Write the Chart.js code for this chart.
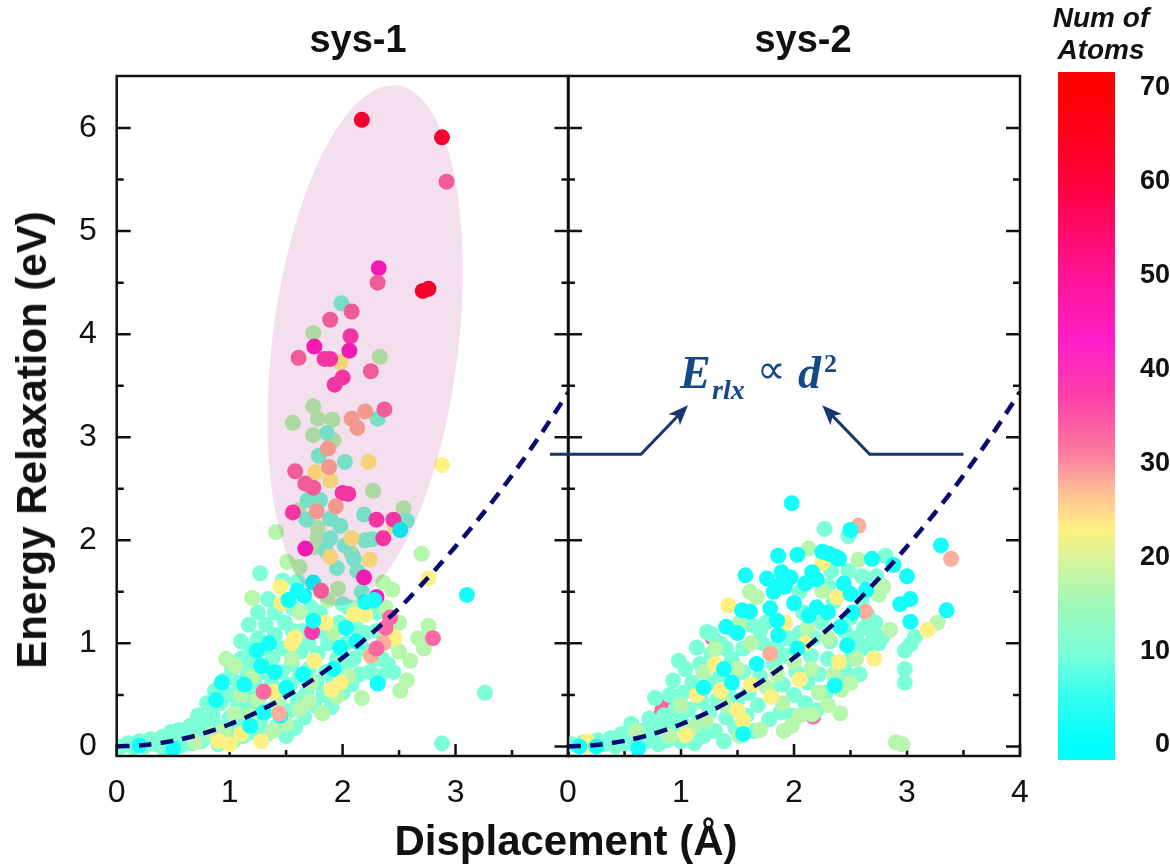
<!DOCTYPE html>
<html lang="en">
<head>
<meta charset="UTF-8">
<title>Energy relaxation vs displacement</title>
<script src="https://cdn.jsdelivr.net/npm/chart.js"></script>
<style>
    html, body { margin: 0; padding: 0; background: #fff; }
    #page { position: relative; width: 1170px; height: 867px; overflow: hidden; font-family: "Liberation Sans", Arial, sans-serif; }
    canvas { position: absolute; left: 0; top: 0; }
    .lbl { position: absolute; transform: translate(-50%, -50%); white-space: nowrap; color: #111; font-weight: bold; z-index: 5; }
    .eq { position: absolute; white-space: nowrap; color: #134a86; font-family: "Liberation Serif", serif; font-weight: bold; font-style: italic; z-index: 5; line-height: 1; }
</style>
</head>
<body>
<div id="page">
    <canvas id="chartSys1" width="1170" height="867"></canvas>
    <canvas id="chartSys2" width="1170" height="867"></canvas>
    <canvas id="chartBar" width="1170" height="867"></canvas>

    <div class="lbl" style="left:358px;top:39px;font-size:38px;">sys-1</div>
    <div class="lbl" style="left:803px;top:39px;font-size:38px;">sys-2</div>
    <div class="lbl" style="left:566px;top:841px;font-size:42px;">Displacement (Å)</div>
    <div class="lbl" style="left:32px;top:440px;font-size:42px;transform:translate(-50%,-50%) rotate(-90deg);">Energy Relaxation (eV)</div>
    <div class="lbl" style="left:1101px;top:18px;font-size:28px;font-style:italic;">Num of</div>
    <div class="lbl" style="left:1101px;top:50px;font-size:28px;font-style:italic;">Atoms</div>

    <span class="eq" style="left:680px;top:350px;font-size:46px;">E</span>
    <span class="eq" style="left:712px;top:376px;font-size:28px;">rlx</span>
    <span class="eq" style="left:757px;top:350px;font-size:40px;font-style:normal;font-weight:normal;">∝</span>
    <span class="eq" style="left:798px;top:350px;font-size:46px;">d</span>
    <span class="eq" style="left:824px;top:351px;font-size:26px;font-style:normal;">2</span>
</div>

<script>
    // axis ticks
    const yMajor = [0, 1, 2, 3, 4, 5, 6];
    const yMinor = [0.5, 1.5, 2.5, 3.5, 4.5, 5.5];
    const xMajor = [0, 1, 2, 3, 4];
    const xMinor = [0.5, 1.5, 2.5, 3.5];
    const xLabelsSys1 = [0, 1, 2, 3];
    const xLabelsSys2 = [0, 1, 2, 3, 4];
    const barTicks = [0, 10, 20, 30, 40, 50, 60, 70];

    // dashed guide E ~ d^2
    const curveD = [0, 0.25, 0.5, 0.75, 1, 1.25, 1.5, 1.75, 2, 2.25, 2.5, 2.75, 3, 3.25, 3.5, 3.75, 4];
    const curveE = [0, 0.013, 0.054, 0.121, 0.215, 0.336, 0.484, 0.658, 0.86, 1.09, 1.34, 1.63, 1.94, 2.27, 2.63, 3.02, 3.44];

    // atom count of every colour group
    const atomsCyan = 2, atomsAqua = 10, atomsGreen = 17, atomsYellow = 23, atomsSalmon = 28;
    const atomsPink = 33, atomsHotPink = 38, atomsMagenta = 44, atomsRed = 62;

    // sys-1 points [displacement, energy]
    const sys1Red = [[2.17, 6.08], [2.88, 5.91], [2.71, 4.42], [2.76, 4.44]];
    const sys1Magenta = [[2.32, 4.64], [1.75, 3.88], [2.06, 3.84], [2.3, 1.45], [1.67, 1.92], [2.19, 1.64]];
    const sys1HotPink = [[2.0, 3.58], [1.93, 3.51], [1.84, 3.76], [1.89, 3.76], [2.07, 3.98], [2.0, 2.46], [2.05, 2.45], [2.3, 2.2], [2.45, 2.2], [2.36, 2.02], [1.56, 2.27], [1.73, 1.11]];
    const sys1Pink = [[2.92, 5.48], [2.31, 4.5], [2.08, 4.22], [1.89, 4.14], [1.61, 3.77], [2.25, 3.64], [2.37, 3.27], [1.58, 2.67], [1.67, 2.55], [1.74, 2.51], [1.81, 1.51], [1.3, 0.53], [2.8, 1.05], [2.42, 1.25], [2.38, 1.15], [2.3, 0.95]];
    const sys1Salmon = [[2.08, 3.18], [2.13, 3.09], [1.88, 2.71], [1.94, 2.33], [1.77, 2.28], [1.87, 2.89], [2.2, 3.25], [2.36, 1.0], [1.44, 0.32], [2.25, 0.88]];
    const sys1Cyan = [[3.1, 1.47], [1.74, 1.22], [1.98, 0.96], [2.31, 0.61], [1.5, 0.57], [1.6, 1.51], [1.74, 1.59], [1.52, 1.42], [1.66, 1.46], [1.35, 1.0], [1.24, 0.93], [1.13, 0.6], [0.88, 0.45], [0.93, 0.62], [1.45, 0.3], [1.18, 0.2], [1.3, 0.33], [0.2, 0.01], [0.5, -0.02], [1.92, 0.75], [2.03, 1.15], [2.12, 1.02], [1.28, 0.78], [2.28, 1.42], [1.4, 0.72], [1.65, 0.7], [2.51, 2.1], [2.2, 1.4]];
    const sys1Yellow = [[2.88, 2.73], [2.76, 1.63], [2.23, 2.76], [1.76, 2.66], [1.89, 2.58], [1.98, 3.73], [2.08, 2.02], [1.89, 1.84], [2.24, 1.81], [1.46, 1.39], [2.46, 2.14], [1.39, 0.53], [1.55, 1.0], [1.58, 1.06], [2.39, 1.12], [2.46, 1.05], [1.0, 0.02], [0.9, 0.05], [1.28, 0.05], [1.85, 1.2], [2.1, 1.28], [1.1, 0.12], [1.9, 0.55], [2.2, 1.28], [1.45, 1.55], [1.75, 0.83], [1.98, 0.62]];
    const sys1Green = [[1.74, 4.01], [2.33, 3.78], [1.56, 3.14], [1.74, 3.3], [1.78, 3.18], [1.91, 3.17], [1.74, 3.02], [1.92, 2.97], [2.27, 2.48], [2.54, 2.31], [1.41, 2.08], [1.78, 2.12], [1.61, 2.29], [1.74, 1.93], [1.78, 2.03], [2.08, 1.87], [1.62, 1.74], [1.51, 1.79], [2.7, 1.87], [1.96, 1.53], [1.87, 1.42], [2.36, 1.59], [2.44, 1.52], [2.38, 1.35], [2.5, 1.2], [2.76, 1.17], [2.67, 1.05], [2.6, 0.83], [2.72, 0.95], [2.5, 0.92], [2.44, 1.02], [2.14, 1.35], [1.2, 1.44], [1.62, 1.3], [0.97, 0.85], [1.05, 0.78], [1.1, 0.5], [1.04, 0.32], [0.95, 0.15], [1.2, 0.68], [1.25, 0.45], [1.18, 0.3], [1.42, 0.42], [1.5, 0.22], [1.62, 0.36], [1.7, 0.44], [1.82, 0.32], [1.95, 0.48], [2.05, 0.68], [1.72, 0.62], [2.51, 0.54], [2.57, 0.64], [1.55, 0.85], [1.38, 0.15], [0.85, 0.12], [0.7, 0.04], [2.17, 0.47], [1.92, 1.1]];
    const sys1Aqua = [[1.99, 4.3], [2.31, 3.18], [1.86, 3.04], [1.79, 2.82], [2.02, 2.76], [1.8, 2.39], [1.69, 2.39], [2.19, 2.25], [2.57, 2.19], [1.68, 2.2], [1.89, 2.21], [1.98, 2.14], [2.26, 2.01], [1.89, 2.02], [2.2, 2.0], [1.95, 1.73], [2.13, 1.7], [1.47, 1.61], [1.27, 1.68], [2.17, 1.5], [1.85, 1.9], [2.02, 1.95], [2.1, 1.82], [1.34, 1.43], [3.26, 0.52], [2.88, 0.03],
        [0.04, 0.0], [0.1, 0.03], [0.15, -0.01], [0.2, 0.05], [0.25, 0.0], [0.3, 0.07], [0.35, 0.02], [0.4, 0.09], [0.42, -0.02], [0.48, 0.14], [0.5, 0.04], [0.55, 0.16], [0.57, 0.01], [0.6, 0.09], [0.65, 0.2], [0.66, 0.03], [0.7, 0.13], [0.72, 0.3], [0.75, 0.05], [0.78, 0.2], [0.8, 0.42], [0.82, 0.1], [0.85, 0.3], [0.87, 0.54], [0.9, 0.02], [0.9, 0.18], [0.92, 0.42], [0.95, 0.64], [0.96, 0.1], [1.0, 0.28], [1.0, 0.5], [1.02, 0.75], [1.03, 0.05], [1.05, 0.18], [1.07, 0.38], [1.08, 0.62], [1.1, 0.85], [1.1, 1.02], [1.12, 0.1], [1.14, 0.27], [1.15, 0.5], [1.16, 0.73], [1.17, 1.18], [1.18, 0.95], [1.2, 0.14], [1.2, 0.38], [1.22, 0.62], [1.23, 0.84], [1.25, 1.05], [1.25, 1.3], [1.27, 0.22], [1.28, 0.5], [1.3, 0.72], [1.3, 0.95], [1.32, 1.18], [1.33, 0.12], [1.35, 0.35], [1.37, 0.62], [1.38, 0.85], [1.4, 1.08], [1.4, 1.3], [1.42, 0.2], [1.44, 0.47], [1.46, 0.72], [1.47, 0.95], [1.49, 1.2], [1.5, 0.1], [1.52, 0.34], [1.54, 0.6], [1.55, 0.8], [1.56, 1.12], [1.56, 1.34], [1.58, 0.18], [1.6, 0.45], [1.62, 0.68], [1.63, 0.92], [1.64, 1.12], [1.66, 0.28], [1.68, 0.52], [1.7, 0.75], [1.7, 1.0], [1.72, 1.35], [1.75, 0.4], [1.77, 0.62], [1.78, 0.9], [1.8, 1.12], [1.8, 1.3], [1.83, 0.5], [1.85, 0.72], [1.87, 1.0], [1.9, 0.38], [1.92, 0.62], [1.95, 0.85], [1.97, 1.2], [2.0, 0.52], [2.02, 0.78], [2.03, 1.0], [2.05, 1.35], [2.08, 0.6], [2.1, 0.85], [2.12, 1.15], [2.15, 0.7], [2.18, 0.95], [2.2, 1.1], [2.24, 0.72], [2.27, 0.85], [2.3, 1.12], [2.33, 0.68], [2.35, 0.85], [2.4, 0.8], [2.45, 0.72], [2.3, 1.3], [2.0, 1.38], [1.6, 1.6]];

    // sys-2 points [displacement, energy]
    const sys2Pink = [[0.86, 0.42], [0.83, 0.33], [0.84, 0.38], [2.17, 0.29], [1.28, 1.05]];
    const sys2Salmon = [[3.39, 1.82], [2.63, 1.31], [1.79, 0.9], [2.57, 2.14]];
    const sys2Yellow = [[1.42, 1.37], [3.18, 1.13], [2.71, 0.85], [2.4, 0.82], [1.14, 0.5], [1.04, 0.11], [0.17, 0.01], [0.17, 0.05], [1.35, 0.54], [2.25, 1.78], [2.05, 0.65], [1.8, 0.48], [1.55, 0.25], [1.5, 0.35], [2.1, 1.0], [1.62, 0.6], [1.3, 0.8], [1.92, 1.2], [2.38, 1.45]];
    const sys2Cyan = [[1.98, 2.36], [2.5, 2.1], [3.3, 1.95], [3.35, 1.32], [3.03, 1.21], [3.0, 1.65], [3.03, 1.43], [2.94, 1.38], [1.86, 1.85], [2.03, 1.86], [2.25, 1.89], [2.31, 1.87], [2.37, 1.84], [2.4, 1.82], [2.69, 1.82], [2.88, 1.76], [1.57, 1.66], [1.76, 1.63], [1.89, 1.69], [1.97, 1.64], [2.16, 1.69], [2.2, 1.62], [2.44, 1.58], [2.5, 1.48], [2.64, 1.52], [1.82, 1.5], [1.87, 1.56], [1.92, 1.55], [2.0, 1.39], [1.79, 1.34], [1.54, 1.32], [1.61, 1.31], [2.13, 1.27], [2.2, 1.35], [2.41, 1.16], [1.86, 1.08], [2.03, 0.95], [2.47, 0.98], [1.38, 0.75], [1.67, 0.8], [1.2, 0.57], [2.36, 0.59], [1.4, 1.16], [2.3, 1.3], [2.52, 1.3], [0.1, 0.0], [0.25, 0.0], [0.62, -0.02], [2.1, 1.58], [1.85, 1.22], [1.5, 1.1], [1.45, 0.62], [1.55, 0.12]];
    const sys2Green = [[2.13, 1.92], [2.57, 1.81], [2.79, 1.55], [2.75, 1.47], [2.9, 0.04], [2.96, 0.02], [3.27, 1.2], [1.61, 1.5], [1.67, 1.45], [2.25, 1.51], [1.51, 1.19], [2.85, 1.13], [2.41, 0.32], [2.16, 0.31], [2.3, 0.4], [2.42, 0.55], [2.5, 0.62], [1.91, 0.15], [1.98, 0.2], [1.7, 0.16], [1.52, 0.1], [2.05, 0.3], [2.22, 0.52], [1.2, 0.72], [1.3, 0.95], [1.62, 1.0], [1.5, 0.75], [1.75, 0.58], [1.9, 0.42], [2.15, 0.75], [2.35, 0.7], [2.12, 1.15], [2.3, 1.05], [1.4, 0.4], [1.22, 0.25], [1.0, 0.4], [1.1, 0.18], [2.0, 0.82], [1.85, 0.7], [0.9, 0.1], [0.6, 0.15], [2.55, 0.85]];
    const sys2Aqua = [[2.27, 2.11], [2.48, 2.04], [2.81, 1.85], [3.07, 1.06], [3.03, 0.99], [2.98, 0.93], [2.98, 0.75], [2.98, 0.62], [2.78, 1.06], [2.72, 1.2], [2.6, 1.65], [2.33, 1.7], [2.5, 1.25],
        [0.03, 0.02], [0.14, 0.04], [0.22, 0.01], [0.26, 0.06], [0.32, 0.02], [0.38, 0.08], [0.42, 0.0], [0.47, 0.12], [0.5, 0.03], [0.56, 0.22], [0.58, 0.07], [0.65, 0.15], [0.7, 0.05], [0.72, 0.27], [0.75, 0.12], [0.77, 0.47], [0.8, 0.02], [0.82, 0.2], [0.85, 0.3], [0.88, 0.06], [0.9, 0.5], [0.92, 0.2], [0.93, 0.64], [0.95, 0.36], [0.98, 0.83], [1.0, 0.05], [1.0, 0.25], [1.02, 0.52], [1.04, 0.75], [1.05, 0.15], [1.07, 0.36], [1.1, 0.62], [1.12, 0.03], [1.14, 0.96], [1.15, 0.24], [1.17, 0.8], [1.18, 0.44], [1.2, 0.1], [1.23, 1.11], [1.25, 0.33], [1.25, 0.62], [1.27, 0.9], [1.27, 1.09], [1.3, 0.15], [1.32, 0.45], [1.35, 0.7], [1.35, 1.0], [1.38, 0.05], [1.4, 0.28], [1.42, 0.55], [1.45, 0.85], [1.45, 1.14], [1.48, 0.18], [1.5, 0.45], [1.55, 0.72], [1.55, 0.95], [1.58, 0.3], [1.6, 0.52], [1.62, 1.18], [1.65, 0.15], [1.68, 0.4], [1.7, 0.68], [1.72, 1.0], [1.75, 1.2], [1.78, 0.26], [1.8, 0.55], [1.82, 0.8], [1.85, 0.98], [1.88, 0.33], [1.9, 0.6], [1.92, 0.88], [1.95, 1.05], [1.98, 0.3], [2.0, 0.5], [2.02, 0.72], [2.05, 1.1], [2.08, 1.3], [2.1, 0.42], [2.12, 0.62], [2.15, 0.88], [2.18, 1.05], [2.2, 0.35], [2.22, 0.7], [2.25, 1.2], [2.28, 0.52], [2.3, 0.85], [2.32, 1.02], [2.35, 1.4], [2.38, 0.65], [2.42, 0.78], [2.45, 1.12], [2.47, 0.7], [2.5, 0.85], [2.55, 1.05], [2.58, 0.7], [2.6, 0.95], [2.62, 1.15], [2.68, 1.0], [2.7, 1.1], [2.65, 1.28], [2.75, 1.0], [2.3, 1.56], [2.48, 1.7], [2.05, 1.5], [2.73, 1.65], [2.6, 1.42], [1.7, 1.12], [1.4, 0.95]];

    // colour bar stops: atoms, r, g, b
    const colourStops = [[0, 0, 255, 255], [5, 50, 255, 240], [10, 125, 255, 215], [15, 160, 248, 185], [19, 205, 245, 160], [23, 255, 240, 130], [27, 255, 190, 150], [31, 250, 125, 160], [37, 255, 65, 170], [43, 255, 30, 200], [50, 255, 20, 150], [60, 255, 0, 60], [70, 255, 0, 0]];
    const barMin = -1.6;
    const barMax = 71.7;

    function atomColour(n) {
        for (let i = 1; i < colourStops.length; i++) {
            const a = colourStops[i - 1];
            const b = colourStops[i];
            if (n <= b[0]) {
                const t = (n - a[0]) / (b[0] - a[0]);
                return `rgb(${Math.round(a[1] + (b[1] - a[1]) * t)},${Math.round(a[2] + (b[2] - a[2]) * t)},${Math.round(a[3] + (b[3] - a[3]) * t)})`;
            }
        }
        return 'rgb(255,0,0)';
    }

    function group(label, points, atoms) {
        return {
            label: label,
            data: points.map(p => ({ x: p[0], y: p[1] })),
            backgroundColor: atomColour(atoms),
            borderWidth: 0,
            pointRadius: 8,
            pointHoverRadius: 8
        };
    }

    function curveDataset() {
        return {
            label: 'guide',
            data: curveD.map((d, i) => ({ x: d, y: curveE[i] })),
            showLine: true,
            pointRadius: 0,
            borderColor: '#0b0b6f',
            borderWidth: 4.5,
            borderDash: [13, 9],
            tension: 0.3,
            fill: false
        };
    }

    // inward ticks under the points, frame on top
    const frameTicks = {
        id: 'frameTicks',
        beforeDatasetsDraw(chart) {
            const { ctx, chartArea: a, scales: { x, y } } = chart;
            ctx.save();
            ctx.strokeStyle = '#111';
            ctx.lineWidth = 2.5;
            ctx.beginPath();
            yMajor.concat(yMinor).forEach(v => {
                const len = yMajor.includes(v) ? 14 : 7;
                const p = y.getPixelForValue(v);
                ctx.moveTo(a.left, p); ctx.lineTo(a.left + len, p);
                ctx.moveTo(a.right, p); ctx.lineTo(a.right - len, p);
            });
            xMajor.concat(xMinor).forEach(v => {
                const len = xMajor.includes(v) ? 12 : 6;
                const p = x.getPixelForValue(v);
                ctx.moveTo(p, a.bottom); ctx.lineTo(p, a.bottom - len);
            });
            ctx.stroke();
            ctx.restore();
        },
        afterDraw(chart) {
            const { ctx, chartArea: a } = chart;
            ctx.save();
            ctx.strokeStyle = '#111';
            ctx.lineWidth = 2.5;
            ctx.strokeRect(a.left, a.top, a.right - a.left, a.bottom - a.top);
            ctx.restore();
        }
    };

    // pink region laid over the sys-1 points
    const ellipseOverlay = {
        id: 'ellipseOverlay',
        afterDatasetsDraw(chart) {
            const { ctx, scales: { x, y } } = chart;
            ctx.save();
            ctx.globalCompositeOperation = 'multiply';
            ctx.fillStyle = '#f3dfee';
            ctx.beginPath();
            ctx.ellipse(x.getPixelForValue(2.2), y.getPixelForValue(3.89), 93, 262, 7 * Math.PI / 180, 0, Math.PI * 2);
            ctx.fill();
            ctx.restore();
        }
    };

    function arrow(ctx, x, y, pts) {
        const p = pts.map(q => [x.getPixelForValue(q[0]), y.getPixelForValue(q[1])]);
        const tip = p[p.length - 1];
        const prev = p[p.length - 2];
        const ang = Math.atan2(tip[1] - prev[1], tip[0] - prev[0]);
        ctx.strokeStyle = '#17376e';
        ctx.fillStyle = '#17376e';
        ctx.lineWidth = 3;
        ctx.beginPath();
        ctx.moveTo(p[0][0], p[0][1]);
        for (let i = 1; i < p.length - 1; i++) ctx.lineTo(p[i][0], p[i][1]);
        ctx.lineTo(tip[0] - 12 * Math.cos(ang), tip[1] - 12 * Math.sin(ang));
        ctx.stroke();
        ctx.save();
        ctx.translate(tip[0], tip[1]);
        ctx.rotate(ang);
        ctx.beginPath();
        ctx.moveTo(0, 0);
        ctx.lineTo(-20, -8);
        ctx.lineTo(-15, 0);
        ctx.lineTo(-20, 8);
        ctx.closePath();
        ctx.fill();
        ctx.restore();
    }

    // two arrows pointing at the formula
    const formulaArrows = {
        id: 'formulaArrows',
        afterDraw(chart) {
            const { ctx, scales: { x, y } } = chart;
            ctx.save();
            arrow(ctx, x, y, [[-0.16, 2.835], [0.646, 2.835], [1.062, 3.31]]);
            arrow(ctx, x, y, [[3.5, 2.835], [2.67, 2.835], [2.25, 3.31]]);
            ctx.restore();
        }
    };

    function panelOptions(labels, showY, padLeft, padRight) {
        return {
            responsive: false,
            animation: false,
            events: [],
            layout: { padding: { left: padLeft, right: padRight, top: 76, bottom: 0 } },
            plugins: { legend: { display: false }, tooltip: { enabled: false }, title: { display: false } },
            scales: {
                x: {
                    type: 'linear',
                    min: 0,
                    max: 4,
                    grid: { display: false },
                    border: { display: false },
                    afterBuildTicks: s => { s.ticks = labels.map(v => ({ value: v })); },
                    afterFit: s => { s.height = 111; },
                    ticks: { color: '#111', font: { family: 'Liberation Sans', size: 32 }, padding: 10, maxRotation: 0, autoSkip: false, callback: v => v }
                },
                y: {
                    type: 'linear',
                    min: -0.093,
                    max: 6.505,
                    display: true,
                    grid: { display: false },
                    border: { display: false },
                    afterBuildTicks: s => { s.ticks = yMajor.map(v => ({ value: v })); },
                    afterFit: s => { s.width = 40; },
                    ticks: { display: showY, color: '#111', font: { family: 'Liberation Sans', size: 32 }, padding: 12, autoSkip: false, callback: v => v }
                }
            }
        };
    }

    new Chart(document.getElementById('chartSys1'), {
        type: 'scatter',
        data: {
            datasets: [
                curveDataset(),
                group('61-70', sys1Red, atomsRed),
                group('pink', sys1Pink, atomsPink),
                group('salmon', sys1Salmon, atomsSalmon),
                group('cyan', sys1Cyan, atomsCyan),
                group('magenta', sys1Magenta, atomsMagenta),
                group('hot pink', sys1HotPink, atomsHotPink),
                group('yellow', sys1Yellow, atomsYellow),
                group('aqua', sys1Aqua.slice(0, 26), atomsAqua),
                group('green', sys1Green, atomsGreen),
                group('aqua low', sys1Aqua.slice(26), atomsAqua)
            ]
        },
        options: panelOptions(xLabelsSys1, true, 76.7, 1170 - 568.5),
        plugins: [frameTicks, ellipseOverlay]
    });

    new Chart(document.getElementById('chartSys2'), {
        type: 'scatter',
        data: {
            datasets: [
                curveDataset(),
                group('cyan', sys2Cyan, atomsCyan),
                group('salmon', sys2Salmon, atomsSalmon),
                group('yellow', sys2Yellow, atomsYellow),
                group('green', sys2Green, atomsGreen),
                group('aqua', sys2Aqua, atomsAqua),
                group('pink', sys2Pink, atomsPink)
            ]
        },
        options: panelOptions(xLabelsSys2, false, 528, 1170 - 1020),
        plugins: [frameTicks, formulaArrows]
    });

    new Chart(document.getElementById('chartBar'), {
        type: 'bar',
        data: {
            labels: ['atoms'],
            datasets: [{
                data: [[barMin, barMax]],
                barPercentage: 1,
                categoryPercentage: 1,
                borderWidth: 0,
                backgroundColor: ctx => {
                    const c = ctx.chart;
                    if (!c.chartArea) return '#fff';
                    const g = c.ctx.createLinearGradient(0, c.chartArea.bottom, 0, c.chartArea.top);
                    colourStops.forEach(s => {
                        const t = (s[0] - barMin) / (barMax - barMin);
                        g.addColorStop(t, `rgb(${s[1]},${s[2]},${s[3]})`);
                    });
                    g.addColorStop(1, 'rgb(255,0,0)');
                    return g;
                }
            }]
        },
        options: {
            responsive: false,
            animation: false,
            events: [],
            layout: { padding: { left: 1058, right: 0, top: 72, bottom: 107 } },
            plugins: { legend: { display: false }, tooltip: { enabled: false } },
            scales: {
                x: { display: false },
                y: {
                    position: 'right',
                    min: barMin,
                    max: barMax,
                    grid: { display: false, drawTicks: false },
                    border: { display: false },
                    afterBuildTicks: s => { s.ticks = barTicks.map(v => ({ value: v })); },
                    afterFit: s => { s.width = 55; },
                    ticks: { color: '#111', crossAlign: 'far', font: { family: 'Liberation Sans', size: 27, weight: 'bold' }, padding: 17, autoSkip: false, callback: v => v }
                }
            }
        }
    });
</script>
</body>
</html>
